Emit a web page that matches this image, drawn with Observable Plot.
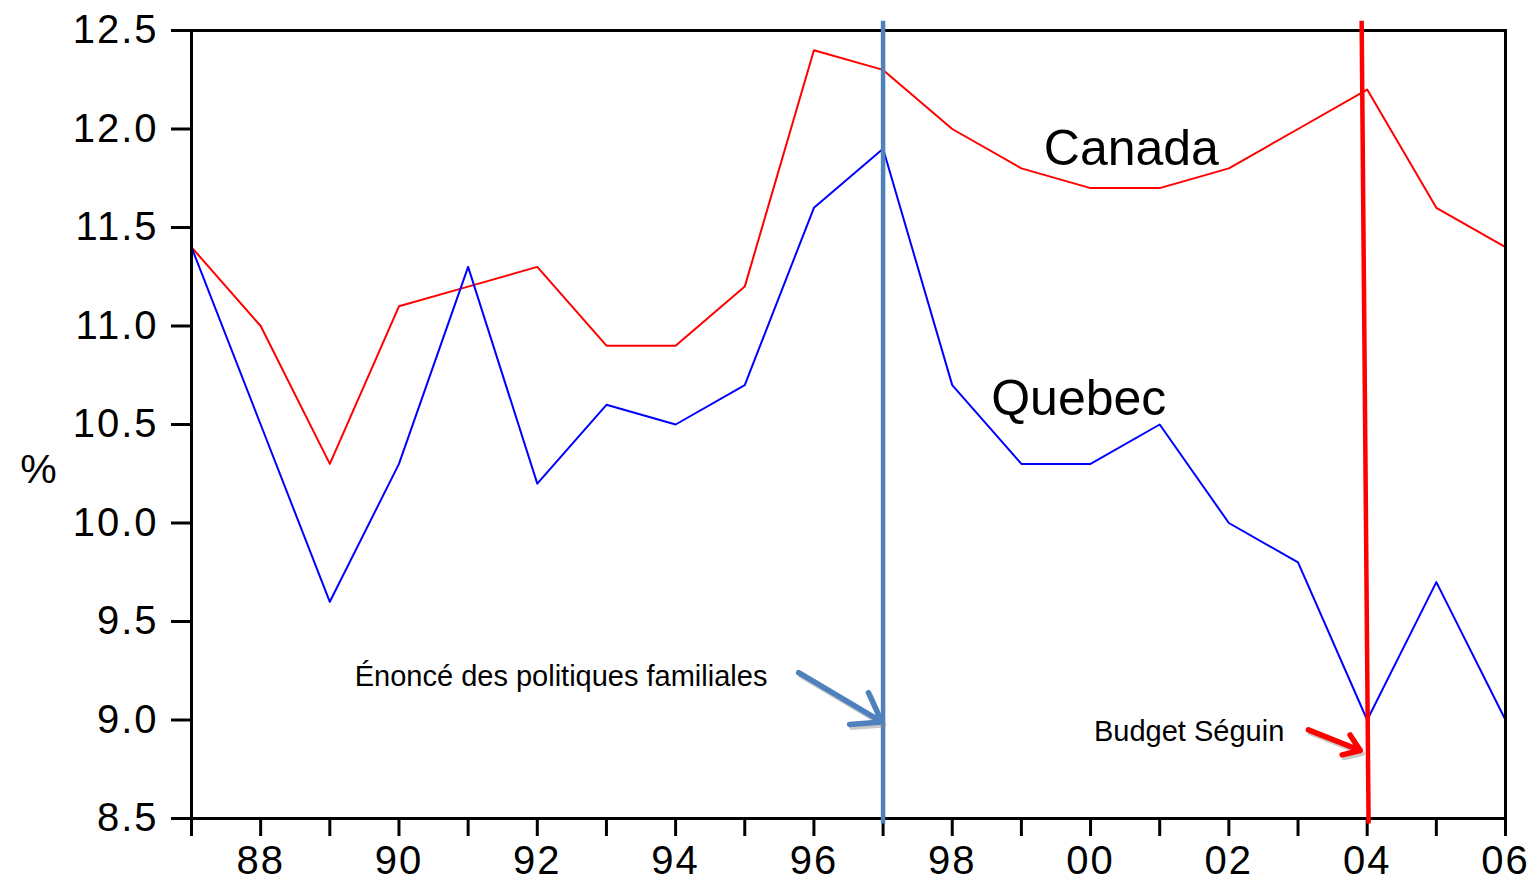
<!DOCTYPE html>
<html>
<head>
<meta charset="utf-8">
<script src="https://cdn.jsdelivr.net/npm/d3@7"></script>
<script src="https://cdn.jsdelivr.net/npm/@observablehq/plot@0.6"></script>
<style>
  html, body { margin: 0; padding: 0; background: #fff; }
  #chart svg { overflow: visible; display: block; }
</style>
</head>
<body>
<div id="chart"></div>
<script>
// ---- data ----
const years = [1987,1988,1989,1990,1991,1992,1993,1994,1995,1996,1997,1998,1999,2000,2001,2002,2003,2004,2005,2006];
const canada = [11.4,11.0,10.3,11.1,11.2,11.3,10.9,10.9,11.2,12.4,12.3,12.0,11.8,11.7,11.7,11.8,12.0,12.2,11.6,11.4];
const quebec = [11.4,10.5,9.6,10.3,11.3,10.2,10.6,10.5,10.7,11.6,11.9,10.7,10.3,10.3,10.5,10.0,9.8,9.0,9.7,9.0];
const yTicks = [8.5,9.0,9.5,10.0,10.5,11.0,11.5,12.0,12.5];
const seriesLabels = [
  {text: "Canada", x: 2000.59, y: 11.90},
  {text: "Quebec", x: 1999.83, y: 10.63}
];
const eventLines = [
  {name: "Énoncé", x1: 1997.0, y1: 12.55, x2: 1997.0, y2: 8.475},
  {name: "Budget", x1: 2003.92, y1: 12.55, x2: 2004.02, y2: 8.475}
];
const eventArrows = [
  {name: "Énoncé", x1: 1995.78, y1: 9.24, x2: 1996.98, y2: 8.99},
  {name: "Budget", x1: 2003.15, y1: 8.95, x2: 2003.90, y2: 8.845}
];
const eventLabels = [
  {text: "Énoncé des politiques familiales", x: 1989.36, y: 9.22},
  {text: "Budget Séguin", x: 2000.05, y: 8.94}
];
const unitLabel = [{text: "%", x: 1987, y: 10.27}];

// ---- build tables ----
const rows = [];
years.forEach((yr, i) => {
  rows.push({year: yr, value: canada[i], series: "Canada"});
  rows.push({year: yr, value: quebec[i], series: "Quebec"});
});
const colors = {Canada: "#ff0000", Quebec: "#0000ff"};
const eventColors = {"Énoncé": "#4f81bd", "Budget": "#ff0000"};

const chart = Plot.plot({
  width: 1535,
  height: 882,
  marginLeft: 191,
  marginRight: 30,
  marginTop: 30,
  marginBottom: 64,
  style: {fontFamily: "'Liberation Sans', Arial, sans-serif", background: "#fff", color: "#000"},
  x: {domain: [1987, 2006]},
  y: {domain: [8.5, 12.5]},
  marks: [
    Plot.axisY({ticks: yTicks, tickFormat: d3.format(".1f"), tickSize: 20, tickPadding: 13, fontSize: 40, strokeWidth: 3, label: null}),
    Plot.axisX({ticks: years, tickSize: 18, tickPadding: 9, fontSize: 40, strokeWidth: 3, label: null,
      tickFormat: d => d % 2 === 0 ? String(d).slice(2) : ""}),
    Plot.line(rows, {x: "year", y: "value", z: "series", stroke: d => colors[d.series], strokeWidth: 2}),
    Plot.frame({strokeWidth: 3, stroke: "#000"}),
    Plot.link(eventLines, {x1: "x1", y1: "y1", x2: "x2", y2: "y2", stroke: d => eventColors[d.name], strokeWidth: 4.5}),
    Plot.arrow(eventArrows, {x1: "x1", y1: "y1", x2: "x2", y2: "y2", stroke: "#888", strokeOpacity: 0.45, strokeWidth: 5, headLength: 24, headAngle: 70, dx: 2, dy: 3}),
    Plot.arrow(eventArrows, {x1: "x1", y1: "y1", x2: "x2", y2: "y2", stroke: d => eventColors[d.name], strokeWidth: 5.5, headLength: 24, headAngle: 70}),
    Plot.text(eventLabels, {x: "x", y: "y", text: "text", textAnchor: "start", fontSize: 29, fill: "#000"}),
    Plot.text(seriesLabels, {x: "x", y: "y", text: "text", fontSize: 50, fill: "#000"}),
    Plot.text(unitLabel, {x: "x", y: "y", text: "text", fontSize: 41, dx: -153, fill: "#000"})
  ]
});
d3.select(chart).selectAll("g[aria-label='y-axis tick label'] text, g[aria-label='x-axis tick label'] text")
  .style("letter-spacing", "2px");
document.getElementById("chart").appendChild(chart);
</script>
</body>
</html>
